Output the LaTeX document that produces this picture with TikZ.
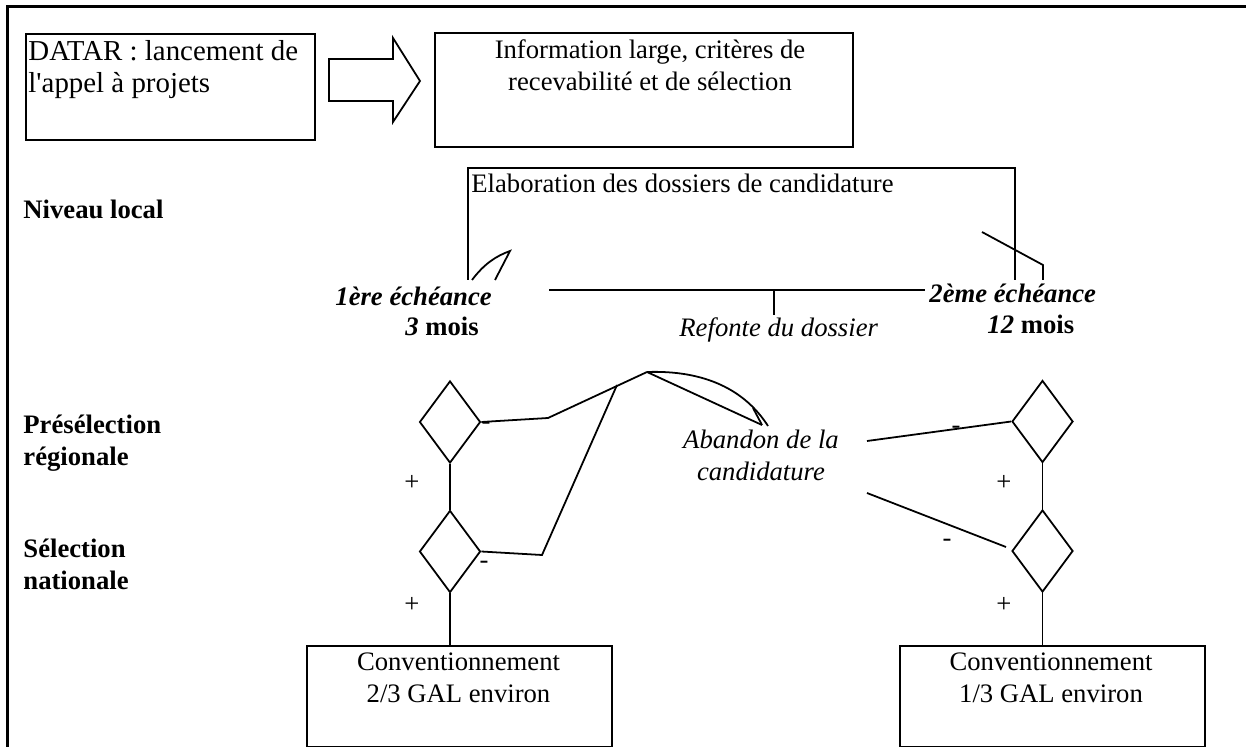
\documentclass[tikz,border=0pt]{standalone}
\usepackage{fontspec}
\setmainfont{Liberation Serif}
\usetikzlibrary{shapes.geometric, positioning}

\begin{document}
\begin{tikzpicture}[x=0.45pt, y=-0.45pt,
every node/.style={font=\fontsize{12}{14.4}\selectfont, inner sep=0pt},
line/.style={line width=0.8pt},
block/.style={draw, line width=0.8pt, anchor=north west},
gate/.style={diamond, draw, line width=0.8pt, minimum width=27.45pt, minimum height=36.9pt},
level/.style={font=\fontsize{12}{14.4}\selectfont\bfseries, align=left},
stage/.style={font=\fontsize{12}{14.4}\selectfont\bfseries\itshape, anchor=base west},
note/.style={font=\fontsize{12}{14.4}\selectfont\itshape, align=center}
]
\useasboundingbox (0,0) rectangle (1246,747);

% cadre
\draw[line width=1.35pt] (7,747) -- (7,7) -- (1246,7);

% appel a projets
\node[block, minimum width=130.05pt, minimum height=47.7pt] (datar) at (25,33) {};
\node[anchor=north west, align=left, font=\fontsize{13}{14.4}\selectfont] (datartxt) at (28,40) {DATAR : lancement de\\l\textquotesingle appel à projets};
\node[block, minimum width=188.1pt, minimum height=51.3pt] (info) at (434,32) {};
\node[anchor=north, align=center] (infotxt) at (650,39) {Information large, critères de\\recevabilité et de sélection};
% fleche pleine
\coordinate (appel) at (329,81);
\draw[line] (appel) ++(0,-22) -- ++(64,0) -- ++(0,-21) -- (420,81) -- (393,122) -- ++(0,-21) -- ++(-64,0) -- cycle;

% niveau local
\node[level, anchor=base west] (local) at (23,219) {Niveau local};
\coordinate (elabl) at (468,280);
\coordinate (elabtl) at (468,168);
\coordinate (elabtr) at (1015,168);
\coordinate (elabr) at (1015,280);
\draw[line] (elabl) -- (elabtl) -- (elabtr) -- (elabr);
\node[anchor=base west] (elab) at (471,193) {Elaboration des dossiers de candidature};
\coordinate (leafa) at (472,280);
\coordinate (leafb) at (510,251);
\coordinate (leafc) at (495,280);
\draw[line] (leafa) .. controls (484,264) and (496,256) .. (leafb) -- (leafc);
\coordinate (ziga) at (982,232);
\coordinate (zigb) at (1043,265);
\coordinate (zigc) at (1043,280);
\draw[line] (ziga) -- (zigb) -- (zigc);

\node[stage] (ech1) at (335,305) {1ère échéance};
\node[font=\fontsize{12}{14.4}\selectfont\bfseries, anchor=base west] (mois1) at (405,335) {\textit{3} mois};
\node[stage] (ech2) at (929,303) {2ème échéance};
\node[font=\fontsize{12}{14.4}\selectfont\bfseries, anchor=base west] (mois2) at (987,333) {\textit{12} mois};

\coordinate (refl) at (549,290);
\coordinate (refr) at (925,290);
\coordinate (refm) at (774,290);
\coordinate (refb) at (774,315);
\draw[line] (refl) -- (refr);
\draw[line] (refm) -- (refb);
\node[note, anchor=base west] (refonte) at (679,337) {Refonte du dossier};

% selections
\node[level, anchor=north west] (regional) at (23,415) {Présélection\\régionale};
\node[level, anchor=north west] (national) at (23,539) {Sélection\\nationale};

\node[gate] (pre1) at (450,422) {};
\node[gate] (nat1) at (450,551.5) {};
\node[gate] (pre2) at (1042.5,421.5) {};
\node[gate] (nat2) at (1042.5,551) {};

\node[block, minimum width=137.25pt, minimum height=45.45pt] (conv1) at (306,645) {};
\node[block, minimum width=137.25pt, minimum height=45.45pt] (conv2) at (899,645) {};
\node[anchor=north, align=center] (conv1txt) at (458.5,652) {Conventionnement\\2/3 GAL environ};
\node[anchor=north, align=center] (conv2txt) at (1051,652) {Conventionnement\\1/3 GAL environ};

\draw[line] (pre1.south) -- (nat1.north);
\draw[line] (nat1.south) -- (nat1.south |- conv1.north);
\draw[line] (pre2.south) -- (nat2.north);
\draw[line] (nat2.south) -- (nat2.south |- conv2.north);

% abandon
\coordinate (bend1) at (548,418);
\coordinate (bend2) at (542,555);
\coordinate (join) at (617,385);
\coordinate (peak) at (647,372);
\coordinate (tipa) at (762,425);
\coordinate (tipb) at (768,426);
\draw[line] (pre1.east) -- (bend1) -- (peak);
\draw[line] (nat1.east) -- (bend2) -- (join);
\draw[line] (peak) -- (tipa);
\draw[line] (peak) .. controls (705,370) and (745,390) .. (tipb);
\draw[line] (753,408) -- (tipa);
\node[note, anchor=north] (abandon) at (761,430) {Abandon de la\\candidature};
\coordinate (aba1) at (867,441);
\coordinate (aba2) at (867,493);
\coordinate (nat2w) at (1006,547);
\draw[line] (aba1) -- (pre2.west);
\draw[line] (aba2) -- (nat2w);

\node (plus1) at (412,483) {+};
\node (plus2) at (412,605) {+};
\node (plus3) at (1004,483) {+};
\node (plus4) at (1004,605) {+};
\node (moins1) at (486,426) {-};
\node (moins2) at (484,565) {-};
\node (moins3) at (956,430) {-};
\node (moins4) at (947,543) {-};
\end{tikzpicture}
\end{document}
